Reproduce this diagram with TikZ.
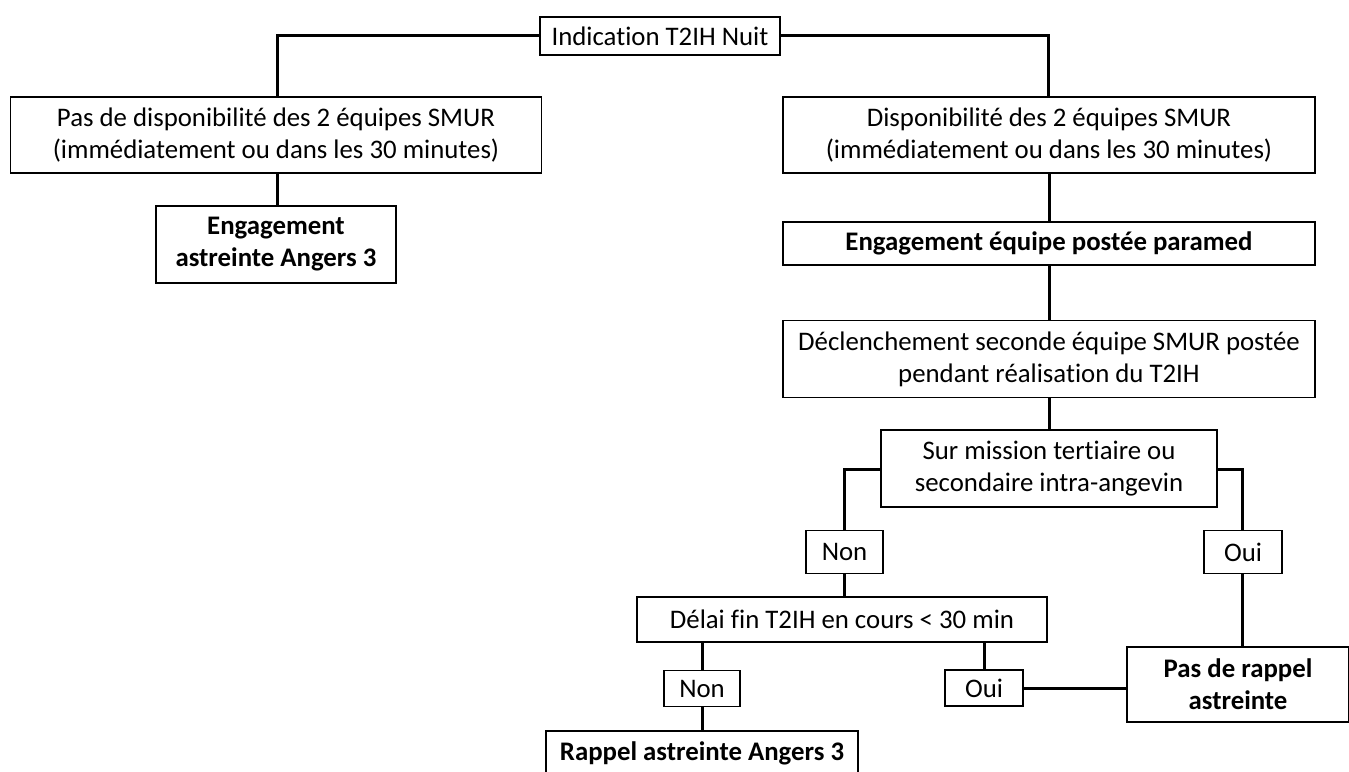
\documentclass[tikz,border=0pt]{standalone}
\usepackage{fontspec}
\setmainfont{Carlito}[RawFeature={-liga}]
\begin{document}
\begin{tikzpicture}[x=1pt,y=-1pt,
  box/.style={draw=black, line width=1.2pt, fill=white, inner sep=0pt, align=center,
    font=\fontsize{26.8}{32}\selectfont},
  bbox/.style={box, font=\fontsize{26.8}{32}\selectfont\bfseries},
  conn/.style={line width=3pt}]
\useasboundingbox (0,0) rectangle (1349,771);
\node[box, minimum width=240pt, minimum height=38pt] (ind) at (660,36) {Indication T2IH Nuit};
\node[box, minimum width=531pt, minimum height=76pt] (nodispo) at (276,135) {Pas de disponibilité des 2 équipes SMUR\\(immédiatement ou dans les 30 minutes)};
\node[bbox, minimum width=240pt, minimum height=77pt] (enga) at (276,244.5) {Engagement\\astreinte Angers 3};
\node[box, minimum width=532pt, minimum height=76pt] (dispo) at (1049,135) {Disponibilité des 2 équipes SMUR\\(immédiatement ou dans les 30 minutes)};
\node[bbox, minimum width=532pt, minimum height=43pt] (engp) at (1049,243.5) {Engagement équipe postée paramed};
\node[box, minimum width=532pt, minimum height=77pt] (decl) at (1049,359) {Déclenchement seconde équipe SMUR postée\\pendant réalisation du T2IH};
\node[box, minimum width=336pt, minimum height=77pt] (sur) at (1049,468.5) {Sur mission tertiaire ou\\secondaire intra-angevin};
\node[box, minimum width=77pt, minimum height=43pt] (non1) at (844.5,552) {Non};
\node[box, minimum width=78pt, minimum height=43pt] (oui1) at (1243,552) {Oui};
\node[box, minimum width=410pt, minimum height=45pt] (delai) at (842,619.5) {Délai fin T2IH en cours < 30 min};
\node[bbox, minimum width=222pt, minimum height=75pt] (pasr) at (1238,684.5) {Pas de rappel\\astreinte};
\node[box, minimum width=76pt, minimum height=36pt] (non2) at (702,688.5) {Non};
\node[box, minimum width=78pt, minimum height=36pt] (oui2) at (984,688) {Oui};
\node[bbox, minimum width=312pt, minimum height=44pt] (rapp) at (702,753) {Rappel astreinte Angers 3};
\coordinate (tl) at (277,35);
\coordinate (tr) at (1048,35);
\coordinate (sl) at (844,469);
\coordinate (sr) at (1242,469);
\draw[conn] (ind.west |- tl) -- (tl) -- (nodispo.north -| tl);
\draw[conn] (ind.east |- tr) -- (tr) -- (dispo.north -| tr);
\draw[conn] (nodispo.south -| tl) -- (enga.north -| tl);
\draw[conn] (dispo.south) -- (engp.north);
\draw[conn] (engp.south) -- (decl.north);
\draw[conn] (decl.south) -- (sur.north);
\draw[conn] (sur.west |- sl) -- (sl) -- (non1.north -| sl);
\draw[conn] (sur.east |- sr) -- (sr) -- (oui1.north -| sr);
\draw[conn] (non1.south -| sl) -- (delai.north -| sl);
\draw[conn] (oui1.south -| sr) -- (pasr.north -| sr);
\draw[conn] (delai.south -| non2) -- (non2.north);
\draw[conn] (delai.south -| oui2) -- (oui2.north);
\draw[conn] (non2.south) -- (rapp.north);
\draw[conn] (oui2.east) -- (oui2.east -| pasr.west);
\end{tikzpicture}
\end{document}
